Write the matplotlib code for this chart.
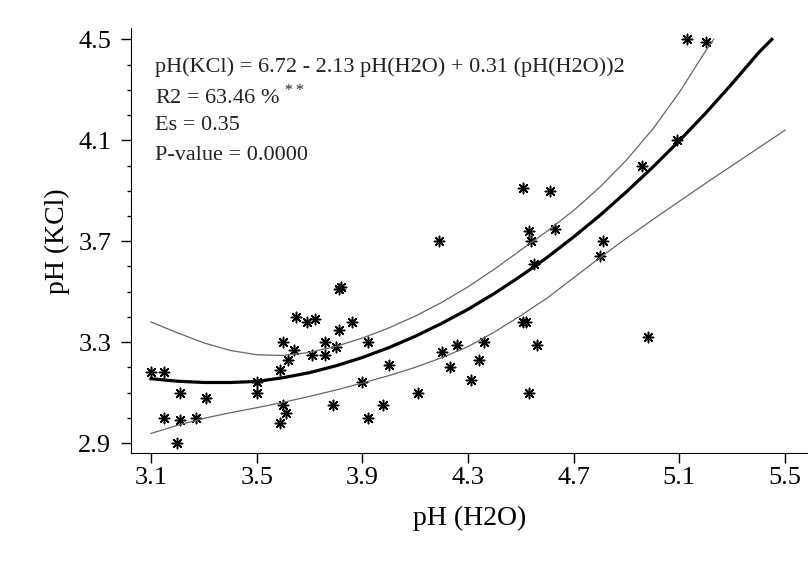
import matplotlib
matplotlib.use("Agg")
import matplotlib.pyplot as plt
from matplotlib.ticker import MultipleLocator

# points: pH in water vs pH in KCl
ph_h2o = [3.10, 3.15, 3.21, 3.31, 3.15, 3.21, 3.27, 3.20,
          3.50, 3.50, 3.59, 3.59, 3.61, 3.60, 3.60, 3.64, 3.62,
          3.65, 3.69, 3.72, 3.81, 3.80, 3.76, 3.71, 3.76, 3.81, 3.82,
          3.86, 3.92, 3.79, 3.90, 3.92, 4.00, 3.98, 4.11,
          4.19, 4.26, 4.36, 4.20, 4.34, 4.23, 4.31,
          4.51, 4.61, 4.53, 4.54, 4.63, 4.55, 4.51, 4.52, 4.56, 4.53,
          4.96, 4.81, 4.80, 4.98, 5.13, 5.20, 5.09]
ph_kcl = [3.18, 3.18, 3.10, 3.08, 3.00, 2.99, 3.00, 2.90,
          3.14, 3.10, 3.19, 2.98, 3.02, 3.05, 3.30, 3.27, 3.23,
          3.40, 3.38, 3.39, 3.35, 3.28, 3.30, 3.25, 3.25, 3.51, 3.52,
          3.38, 3.30, 3.05, 3.14, 3.00, 3.21, 3.05, 3.10,
          3.70, 3.29, 3.30, 3.26, 3.23, 3.20, 3.15,
          3.91, 3.90, 3.74, 3.70, 3.75, 3.61, 3.38, 3.38, 3.29, 3.10,
          4.00, 3.70, 3.64, 3.32, 4.50, 4.49, 4.10]

# fitted curve and its band
fit_x = [3.1, 3.2, 3.3, 3.4, 3.5, 3.6, 3.7, 3.8, 3.9, 4.0, 4.1, 4.2, 4.3,
         4.4, 4.5, 4.6, 4.7, 4.8, 4.9, 5.0, 5.1, 5.2, 5.3, 5.4, 5.45]
fit_y = [3.155, 3.145, 3.140, 3.140, 3.144, 3.159, 3.179, 3.206, 3.239, 3.278,
         3.323, 3.374, 3.430, 3.493, 3.562, 3.636, 3.717, 3.803, 3.896, 3.994,
         4.098, 4.208, 4.325, 4.447, 4.500]
upper_x = [3.1, 3.2, 3.3, 3.4, 3.5, 3.6, 3.7, 3.8, 3.9, 4.0, 4.1, 4.2, 4.3,
           4.4, 4.5, 4.6, 4.7, 4.8, 4.9, 5.0, 5.1, 5.2, 5.23]
upper_y = [3.380, 3.337, 3.297, 3.267, 3.250, 3.247, 3.259, 3.283, 3.316, 3.356,
           3.403, 3.457, 3.519, 3.589, 3.665, 3.740, 3.822, 3.915, 4.022, 4.145,
           4.290, 4.455, 4.500]
lower_x = [3.1, 3.2, 3.3, 3.4, 3.5, 3.6, 3.7, 3.8, 3.9, 4.0, 4.1, 4.2, 4.3,
           4.4, 4.5, 4.6, 4.7, 4.8, 4.9, 5.0, 5.1, 5.2, 5.3, 5.4, 5.5]
lower_y = [2.938, 2.970, 2.998, 3.020, 3.040, 3.061, 3.085, 3.110, 3.138, 3.167,
           3.200, 3.238, 3.282, 3.340, 3.405, 3.475, 3.555, 3.635, 3.712, 3.786,
           3.858, 3.930, 4.000, 4.070, 4.140]

equation = "pH(KCl) = 6.72 - 2.13 pH(H2O) + 0.31 (pH(H2O))2"
stats = ["R2 = 63.46 % $^{**}$", "Es = 0.35", "P-value = 0.0000"]
x_ticks = [3.1, 3.5, 3.9, 4.3, 4.7, 5.1, 5.5]
y_ticks = [2.9, 3.3, 3.7, 4.1, 4.5]

plt.rcParams['font.family'] = 'Liberation Serif'
plt.rcParams['mathtext.fontset'] = 'custom'
plt.rcParams['mathtext.rm'] = 'Liberation Serif'

fig = plt.figure(figsize=(8.08, 5.65), dpi=100)
ax = fig.add_axes([0.162, 0.198, 0.838, 0.752])

ax.plot(upper_x, upper_y, color='#666666', lw=0.9)
ax.plot(lower_x, lower_y, color='#666666', lw=0.9)
ax.plot(fit_x, fit_y, color='black', lw=2.3)
ax.scatter(ph_h2o, ph_kcl, marker=(8, 2, 0), s=55, color='black', linewidths=1.1)

ax.set_xlim(3.024, 5.587)
ax.set_ylim(2.86, 4.544)
ax.set_xticks(x_ticks)
ax.set_yticks(y_ticks)
ax.yaxis.set_minor_locator(MultipleLocator(0.1))
ax.spines['top'].set_visible(False)
ax.spines['right'].set_visible(False)
ax.tick_params(axis='both', which='major', length=7, width=1, labelsize=19, direction='out')
ax.tick_params(axis='y', which='major', pad=7)
ax.tick_params(axis='x', which='major', pad=3)
ax.tick_params(axis='y', which='minor', length=3, width=1)

ax.set_xlabel("pH (H2O)", fontsize=20, labelpad=12)
ax.set_ylabel("pH (KCl)", fontsize=20, labelpad=6)

ax.text(155, 565 - 67, equation, transform=None, fontsize=16, va='center', color='#222222')
for i, line in enumerate(stats):
    ax.text(155, 565 - 96 - 29.5 * i, line, transform=None, fontsize=16, va='center', color='#222222')

fig.savefig("out.png", dpi=100)
